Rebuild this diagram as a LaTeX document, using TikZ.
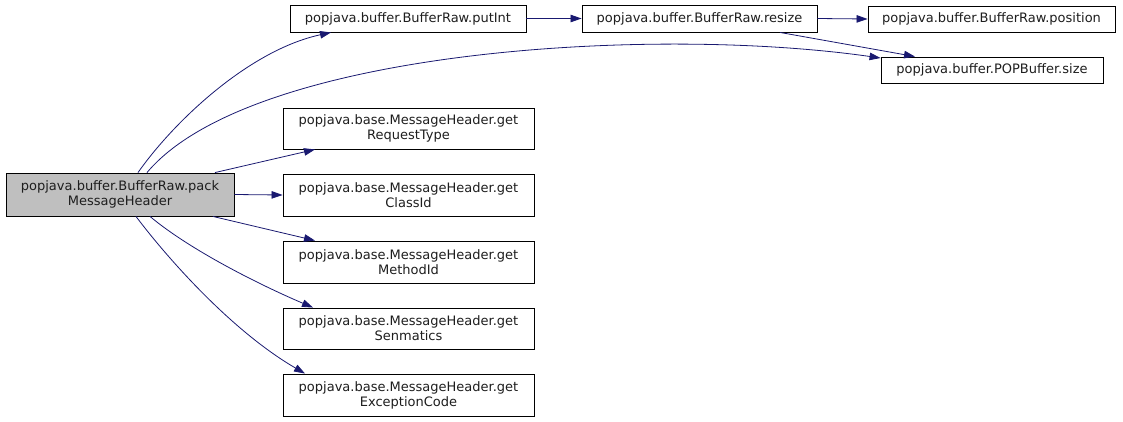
\documentclass[tikz,border=0pt]{standalone}
\usepackage{fontspec}
\setmainfont{DejaVu Sans}
\usetikzlibrary{arrows.meta}
\definecolor{edgeblue}{RGB}{25,25,112}
\definecolor{maingray}{RGB}{191,191,191}
\definecolor{txt}{RGB}{30,30,30}
\begin{document}
\begin{tikzpicture}[x=1pt,y=-1pt,
  box/.style={draw=black, line width=0.9pt, fill=white, align=center, inner sep=0pt, text=txt,
    font=\fontsize{13}{15}\selectfont},
  edge/.style={draw=edgeblue, line width=0.8pt, -{Triangle[length=11pt,width=7.5pt]}}]
\useasboundingbox (0,0) rectangle (1123,421);
\node[box, fill=maingray, minimum width=228pt, minimum height=43pt] (main) at (120,194.5) {popjava.buffer.BufferRaw.pack\\MessageHeader};
\node[box, minimum width=236pt, minimum height=27pt] (putInt) at (408,18.5) {popjava.buffer.BufferRaw.putInt};
\node[box, minimum width=235pt, minimum height=27pt] (resize) at (699.5,18.5) {popjava.buffer.BufferRaw.resize};
\node[box, minimum width=247pt, minimum height=26pt] (position) at (991.5,19) {popjava.buffer.BufferRaw.position};
\node[box, minimum width=222pt, minimum height=26pt] (size) at (992,70) {popjava.buffer.POPBuffer.size};
\node[box, minimum width=251pt, minimum height=41pt] (reqtype) at (408.5,128.5) {popjava.base.MessageHeader.get\\RequestType};
\node[box, minimum width=251pt, minimum height=42pt] (classid) at (408.5,195) {popjava.base.MessageHeader.get\\ClassId};
\node[box, minimum width=251pt, minimum height=42pt] (methodid) at (408.5,262) {popjava.base.MessageHeader.get\\MethodId};
\node[box, minimum width=251pt, minimum height=41pt] (senm) at (408.5,328.5) {popjava.base.MessageHeader.get\\Senmatics};
\node[box, minimum width=251pt, minimum height=42pt] (exc) at (408.5,395) {popjava.base.MessageHeader.get\\ExceptionCode};

\draw[edge] ([xshift=18pt]main.north) .. controls (175,120) and (250,50) .. ([xshift=-77pt]putInt.south);
\draw[edge] ([xshift=27pt]main.north) .. controls (250,50) and (650,25) .. ([yshift=12pt]size.west);
\draw[edge] ([xshift=95pt]main.north) -- ([xshift=-93.5pt]reqtype.south);
\draw[edge] (main.east) -- (classid.west);
\draw[edge] ([xshift=93pt]main.south) -- ([xshift=-93.5pt]methodid.north);
\draw[edge] ([xshift=30pt]main.south) .. controls (190,250) and (260,285) .. ([xshift=-95.5pt]senm.north);
\draw[edge] ([xshift=16pt]main.south) .. controls (165,255) and (230,330) .. ([xshift=-103.5pt]exc.north);
\draw[edge] (putInt.east) -- (resize.west);
\draw[edge] (resize.east) -- (position.west);
\draw[edge] ([xshift=80.5pt]resize.south) -- ([xshift=-77pt]size.north);
\end{tikzpicture}
\end{document}
